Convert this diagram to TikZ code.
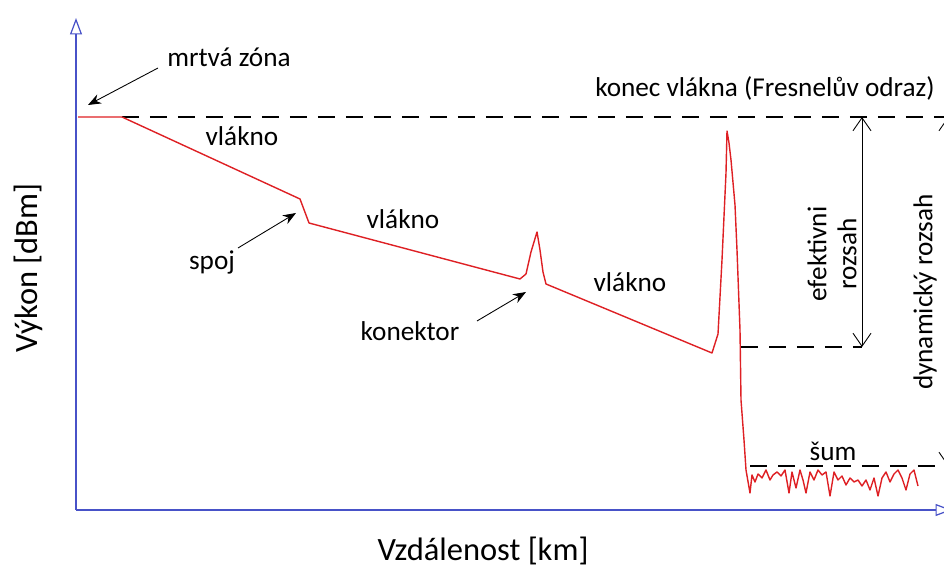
\documentclass[tikz,border=0pt]{standalone}
\usepackage{fontspec}
\setmainfont{Carlito}
\usetikzlibrary{arrows.meta,positioning}

\definecolor{axisblue}{RGB}{72,82,200}
\definecolor{tracered}{RGB}{222,32,36}

\begin{document}
\begin{tikzpicture}[x=0.02cm,y=-0.02cm,
		lbl/.style={font=\fontsize{15.5}{17}\selectfont,inner sep=0pt},
		axlbl/.style={font=\fontsize{18.5}{20}\selectfont,inner sep=0pt},
		guide/.style={dash pattern=on 0.34cm off 0.22cm,line width=0.6pt},
		pointer/.style={-{Stealth[length=2.6mm,width=2mm]},line width=0.5pt},
		spanarrow/.style={{Straight Barb[length=2.6mm,width=3.6mm]}-{Straight Barb[length=2.6mm,width=3.6mm]},line width=0.5pt}]
		\useasboundingbox (0,0) rectangle (944,567);
		
		% axes
		\coordinate (o) at (76,510);
		\coordinate (ytop) at (76,18);
		\coordinate (xend) at (952,510);
		\draw[axisblue,line width=0.7pt,-{Triangle[open,length=3.3mm,width=2.4mm]}] (o) -- (ytop);
		\draw[axisblue,line width=0.7pt,-{Triangle[open,length=3.3mm,width=2.4mm]}] (o) -- (xend);
		
		% guide lines
		\coordinate (top1) at (122,117);
		\coordinate (top2) at (946,117);
		\coordinate (eff1) at (741,347);
		\coordinate (eff2) at (862,347);
		\coordinate (noise1) at (750,466);
		\coordinate (noise2) at (946,466);
		\draw[guide] (top1) -- (top2);
		\draw[guide] (eff1) -- (eff2);
		\draw[guide] (noise1) -- (noise2);
		
		% trace
		\draw[tracered,line width=0.8pt,line join=round] plot coordinates {
			(78,117) (122,117) (300,199) (309,223) (520,279) (526,274) (531,252) (537,232)
			(540,250) (543,272) (546,284) (712,353) (718,334) (722,260) (726,173) (727,131)
			(729,143) (731,160) (735,205) (737,250) (740,330) (741,400) (744,440) (746,470)
			(750,493) (752,475) (755,482) (758,474) (762,478) (766,470) (770,480) (773,475)
			(777,472) (781,476) (785,470) (789,493) (792,472) (796,488) (800,470) (803,480)
			(806,493) (810,472) (814,480) (818,470) (822,475) (826,472) (830,496) (834,472)
			(838,480) (842,476) (846,485) (850,478) (854,482) (858,480) (862,486) (866,480)
			(870,490) (874,478) (878,496) (882,478) (886,472) (890,482) (894,474) (898,470)
			(902,478) (906,490) (910,474) (914,470) (918,486)};
		
		% ranges
		\coordinate (e1) at (862,117);
		\coordinate (e2) at (862,347);
		\coordinate (d1) at (948,117);
		\coordinate (d2) at (948,466);
		\draw[spanarrow] (e1) -- (e2);
		\draw[spanarrow] (d1) -- (d2);
		
		% labels
		\node[lbl] (dead) at (229,57) {mrtvá zóna};
		\node[lbl] (end) at (765,88) {konec vlákna (Fresnelův odraz)};
		\node[lbl] (f1) at (242,136) {vlákno};
		\node[lbl] (f2) at (403,219) {vlákno};
		\node[lbl] (f3) at (630,282) {vlákno};
		\node[lbl] (splice) at (212,262) {spoj};
		\node[lbl] (conn) at (410,331) {konektor};
		\node[lbl] (noise) at (833,451) {šum};
		\node[lbl,rotate=90,align=center] (eff) at (832,254) {efektivni\\rozsah};
		\node[lbl,rotate=90] (dyn) at (925,292) {dynamický rozsah};
		\node[axlbl,rotate=90] (ylab) at (28,268) {Výkon [dBm]};
		\node[axlbl] (xlab) at (483,551) {Vzdálenost [km]};
		
		% pointers
		\coordinate (deadpt) at (88,105);
		\coordinate (splicept) at (296,213);
		\coordinate (connpt) at (526,292);
		\draw[pointer] (158,68) -- (deadpt);
		\draw[pointer] (238,248) -- (splicept);
		\draw[pointer] (477,321) -- (connpt);
		\end{tikzpicture}
\end{document}
